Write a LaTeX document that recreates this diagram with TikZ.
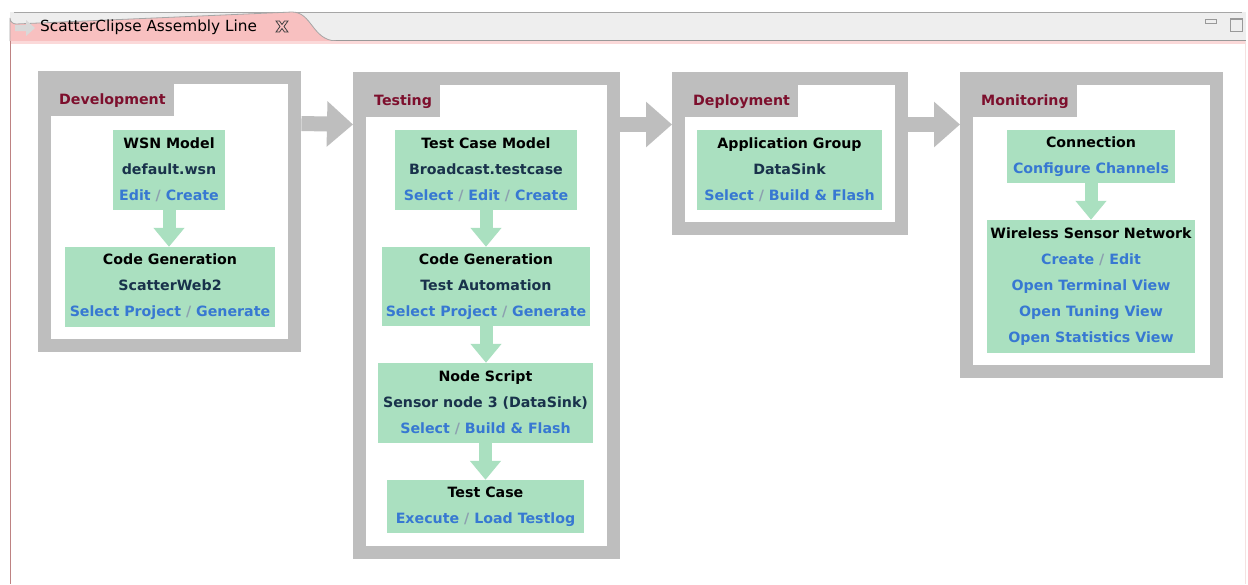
\documentclass[tikz,border=0pt]{standalone}
\usepackage{fontspec}
\setmainfont{DejaVu Sans}
\usetikzlibrary{arrows.meta,calc}
\definecolor{frameg}{RGB}{190,190,190}
\definecolor{boxg}{RGB}{170,224,192}
\definecolor{lblc}{RGB}{125,15,45}
\definecolor{subc}{RGB}{25,50,75}
\definecolor{lnkc}{RGB}{55,120,210}
\definecolor{slc}{RGB}{140,160,175}
\definecolor{tabpink}{RGB}{248,192,192}
\definecolor{barg}{RGB}{238,238,238}
\definecolor{vborder}{RGB}{190,130,130}
\definecolor{vborderr}{RGB}{245,225,225}
\newcommand{\lk}[1]{\textcolor{lnkc}{#1}}
\newcommand{\subt}[1]{\textcolor{subc}{#1}}
\newcommand{\slsep}{\textcolor{slc}{\ /\ }}
\tikzset{
  framebox/.style={rectangle, fill=frameg, draw=none, inner sep=0pt, anchor=north west},
  lblbox/.style={rectangle, fill=frameg, draw=none, inner xsep=8pt, inner ysep=0pt, minimum height=32pt, anchor=north west, text=lblc, font=\bfseries\fontsize{14.2}{16}\selectfont},
  gbox/.style={rectangle, fill=boxg, draw=none, inner sep=0pt, align=center, font=\bfseries\fontsize{14.2}{26}\selectfont},
  garrow/.style={draw=boxg, line width=13pt, -{Triangle[length=19pt,width=30pt]}},
  bigarrow/.style={draw=frameg, line width=15pt, -{Triangle[length=26pt,width=44pt]}}
}
\begin{document}
\begin{tikzpicture}[x=1pt,y=-1pt]
\useasboundingbox (0,0) rectangle (1248,584);
\fill[white] (0,0) rectangle (1248,584);
% top bar
\fill[barg] (10,12) rectangle (1246,41);
\draw[gray!70, line width=0.8pt] (14,12) -- (1242,12);
\draw[gray!80, line width=0.8pt] (10,40.5) -- (1246,40.5);
% tab
\fill[tabpink] (10,41) -- (10,18) arc[start angle=180,end angle=90,radius=6] -- (292,12) .. controls (312,12) and (312,40) .. (336,41) -- cycle;
\draw[gray!70, line width=0.8pt] (10,41) -- (10,18) arc[start angle=180,end angle=90,radius=6] -- (292,12) .. controls (312,12) and (312,40) .. (336,41);
\fill[gray!30] (15,25) -- (26,25) -- (26,20) -- (35,28) -- (26,36) -- (26,31) -- (15,31) -- cycle;
\node[anchor=west, inner sep=0pt, font=\fontsize{15.3}{17}\selectfont] (tabtitle) at (40,27) {ScatterClipse Assembly Line};
\draw[gray!50!black, line width=0.8pt] (276,21) -- (279.5,21) -- (282,24.5) -- (284.5,21) -- (288,21) -- (284,26.5) -- (288,32) -- (284.5,32) -- (282,28.5) -- (279.5,32) -- (276,32) -- (280,26.5) -- cycle;
% view border
\fill[tabpink!60] (10,41) rectangle (1246,44);
\draw[vborder, line width=1pt] (10.5,41) -- (10.5,584);
\draw[vborderr, line width=1pt] (1245.5,41) -- (1245.5,584);
% window icons
\draw[gray!80, line width=0.8pt] (1205,19) rectangle (1216,23);
\draw[gray!80, line width=0.8pt] (1230,18) rectangle (1242,31);
\draw[gray!80, line width=1.6pt] (1230,19) -- (1242,19);

% frames
\node[framebox, minimum width=263pt, minimum height=281pt] (dev) at (38,71) {};
\node[framebox, minimum width=267pt, minimum height=487pt] (test) at (353,72) {};
\node[framebox, minimum width=236pt, minimum height=163pt] (depl) at (672,72) {};
\node[framebox, minimum width=263pt, minimum height=306pt] (mon) at (960,72) {};
\foreach \f in {dev,test,depl,mon}{
  \fill[white] ($(\f.north west)+(13,13)$) rectangle ($(\f.south east)+(-13,-13)$);
}
\node[lblbox] (devl) at ($(dev.north west)+(13,13)$) {Development};
\node[lblbox] (testl) at ($(test.north west)+(13,13)$) {Testing};
\node[lblbox] (depll) at ($(depl.north west)+(13,13)$) {Deployment};
\node[lblbox] (monl) at ($(mon.north west)+(13,13)$) {Monitoring};

% big arrows
\draw[bigarrow] ($(dev.north east)+(0,52.5)$) -- ($(test.north west)+(0,52.5)$);
\draw[bigarrow] ($(test.north east)+(0,52.5)$) -- ($(depl.north west)+(0,52.5)$);
\draw[bigarrow] ($(depl.north east)+(0,52.5)$) -- ($(mon.north west)+(0,52.5)$);

% development
\node[gbox, minimum width=112pt, minimum height=80pt] (wsnm) at (169,170) {WSN Model\\ \subt{default.wsn}\\ \lk{Edit}\slsep\lk{Create}};
\node[gbox, minimum width=210pt, minimum height=80pt] (cgd) at (170,287) {Code Generation\\ \subt{ScatterWeb2}\\ \lk{Select Project}\slsep\lk{Generate}};
\draw[garrow] (wsnm.south) -- (wsnm.south |- cgd.north);

% testing
\node[gbox, minimum width=182pt, minimum height=80pt] (tcm) at (486,170) {Test Case Model\\ \subt{Broadcast.testcase}\\ \lk{Select}\slsep\lk{Edit}\slsep\lk{Create}};
\node[gbox, minimum width=208pt, minimum height=79pt] (cgt) at (486,286.5) {Code Generation\\ \subt{Test Automation}\\ \lk{Select Project}\slsep\lk{Generate}};
\node[gbox, minimum width=215pt, minimum height=80pt] (ns) at (485.5,403) {Node Script\\ \subt{Sensor node 3 (DataSink)}\\ \lk{Select}\slsep\lk{Build \& Flash}};
\node[gbox, minimum width=197pt, minimum height=53pt] (tc) at (485.5,506.5) {Test Case\\ \lk{Execute}\slsep\lk{Load Testlog}};
\draw[garrow] (tcm.south) -- (tcm.south |- cgt.north);
\draw[garrow] (cgt.south) -- (cgt.south |- ns.north);
\draw[garrow] (ns.south) -- (ns.south |- tc.north);

% deployment
\node[gbox, minimum width=185pt, minimum height=80pt] (ag) at (789.5,170) {Application Group\\ \subt{DataSink}\\ \lk{Select}\slsep\lk{Build \& Flash}};

% monitoring
\node[gbox, minimum width=168pt, minimum height=53pt] (conn) at (1091,156.5) {Connection\\ \lk{Configure Channels}};
\node[gbox, minimum width=208pt, minimum height=133pt] (wsnn) at (1091,286.5) {Wireless Sensor Network\\ \lk{Create}\slsep\lk{Edit}\\ \lk{Open Terminal View}\\ \lk{Open Tuning View}\\ \lk{Open Statistics View}};
\draw[garrow] (conn.south) -- (conn.south |- wsnn.north);
\end{tikzpicture}
\end{document}
